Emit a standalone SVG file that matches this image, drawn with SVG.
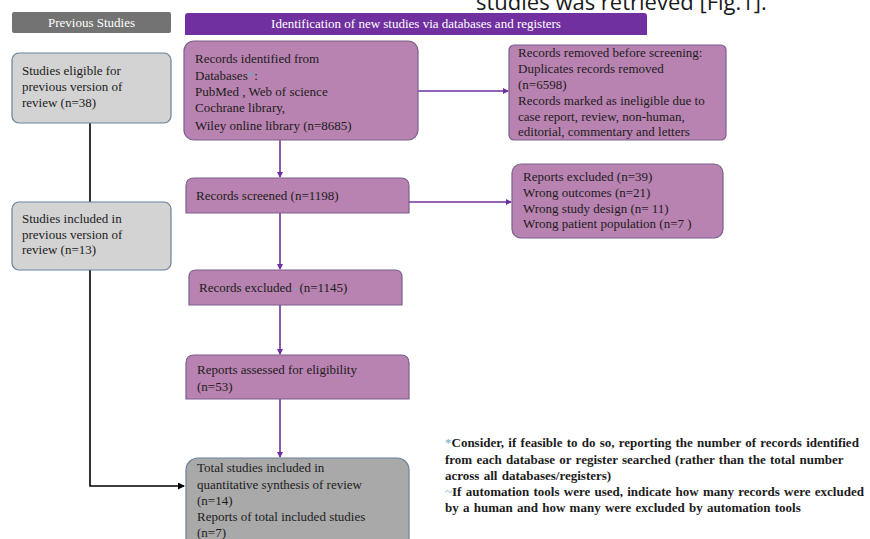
<svg xmlns="http://www.w3.org/2000/svg" width="870" height="539" viewBox="0 0 870 539">
<style>
.t{font-family:"Liberation Serif","Times New Roman",serif;font-size:13px;fill:#1c1c1c;}
.h{font-family:"Liberation Serif","Times New Roman",serif;font-size:13px;fill:#ffffff;}
.f{font-family:"Liberation Serif","Times New Roman",serif;font-size:13px;font-weight:bold;fill:#1c1c1c;word-spacing:1px;}
.blue{fill:#6fa8d2;}
.mauve{fill:#b883b0;stroke:#7b5f8c;stroke-width:1.2;}
.lgray{fill:#d3d3d3;stroke:#6a8199;stroke-width:1.2;}
.dgray{fill:#a9a9a9;stroke:#6a8199;stroke-width:1.2;}
.pl{stroke:#7030a0;stroke-width:1.6;fill:none;}
.bl{stroke:#000;stroke-width:1.6;fill:none;}
</style>
<defs>
<marker id="ap" markerWidth="6" markerHeight="6" refX="5" refY="3" orient="auto" markerUnits="userSpaceOnUse"><path d="M0,0 L6,3 L0,6 z" fill="#7030a0"/></marker>
<marker id="ab" markerWidth="7" markerHeight="7" refX="6" refY="3.5" orient="auto" markerUnits="userSpaceOnUse"><path d="M0,0 L7,3.5 L0,7 z" fill="#000"/></marker>
</defs>
<rect width="870" height="539" fill="#ffffff"/>
<text x="476" y="10" style="font-family:'Open Sans','Noto Sans',sans-serif;font-size:22px;fill:#1a1a1a;">studies was retrieved [Fig.1].</text>

<g id="hdr-prev">
<rect x="12" y="12" width="159" height="21" rx="2" fill="#737373"/>
<text x="91.5" y="27" class="h" text-anchor="middle">Previous  Studies</text>
</g>
<g id="hdr-new">
<path d="M185,35 V16 Q185,13 188,13 H644 Q647,13 647,16 V35 Z" fill="#7030a0"/>
<text x="416" y="28" class="h" text-anchor="middle">Identification  of new studies via databases and registers</text>
</g>

<g id="connectors">
<line x1="90" y1="123" x2="90" y2="202" class="bl"/>
<path d="M90,270 V486 H184" class="bl" marker-end="url(#ab)"/>
<line x1="280" y1="140" x2="280" y2="177" class="pl" marker-end="url(#ap)"/>
<line x1="418" y1="91" x2="508" y2="91" class="pl" marker-end="url(#ap)"/>
<line x1="409" y1="202" x2="511" y2="202" class="pl" marker-end="url(#ap)"/>
<line x1="280" y1="213" x2="280" y2="269" class="pl" marker-end="url(#ap)"/>
<line x1="280" y1="305" x2="280" y2="354" class="pl" marker-end="url(#ap)"/>
<line x1="280" y1="399" x2="280" y2="457" class="pl" marker-end="url(#ap)"/>
</g>

<g id="prev-eligible">
<rect x="12" y="53" width="159" height="70" rx="7" class="lgray"/>
<text class="t" x="22" y="75">Studies  eligible  for</text>
<text class="t" x="22" y="91">previous  version  of</text>
<text class="t" x="22" y="107">review  (n=38)</text>
</g>
<g id="prev-included">
<rect x="12" y="202" width="159" height="68" rx="7" class="lgray"/>
<text class="t" x="22" y="223">Studies  included  in</text>
<text class="t" x="22" y="239">previous  version  of</text>
<text class="t" x="22" y="254">review  (n=13)</text>
</g>

<g id="identified">
<rect x="184" y="41" width="234" height="99" rx="10" class="mauve"/>
<text class="t" x="195" y="63">Records identified  from</text>
<text class="t" x="195" y="80">Databases<tspan class="blue">*</tspan>:</text>
<text class="t" x="195" y="96">PubMed , Web of science</text>
<text class="t" x="195" y="112">Cochrane library,</text>
<text class="t" x="195" y="130">Wiley  online  library  (n=8685)</text>
</g>
<g id="removed">
<rect x="509" y="45" width="217" height="95" rx="5" class="mauve"/>
<text class="t" x="518" y="57">Records removed  before  screening:</text>
<text class="t" x="518" y="73">Duplicates  records removed</text>
<text class="t" x="518" y="89">(n=6598)</text>
<text class="t" x="518" y="105">Records marked  as ineligible  due to</text>
<text class="t" x="518" y="121">case report, review,  non-human,</text>
<text class="t" x="518" y="136">editorial,  commentary  and letters</text>
</g>
<g id="screened">
<path d="M186,213 V186 Q186,178 194,178 H401 Q409,178 409,186 V213 Z" class="mauve"/>
<text class="t" x="196" y="200">Records screened  (n=1198)</text>
</g>
<g id="reports-excluded">
<rect x="512" y="164" width="211" height="74" rx="9" class="mauve"/>
<text class="t" x="523" y="181">Reports excluded  (n=39)</text>
<text class="t" x="523" y="197">Wrong  outcomes  (n=21)</text>
<text class="t" x="523" y="213">Wrong  study  design  (n= 11)</text>
<text class="t" x="523" y="228">Wrong  patient  population  (n=7 )</text>
</g>
<g id="records-excluded">
<path d="M189,305 V277 Q189,270 196,270 H395 Q402,270 402,277 V305 Z" class="mauve"/>
<text class="t" x="199" y="292">Records excluded  <tspan class="blue">-</tspan>(n=1145)</text>
</g>
<g id="assessed">
<path d="M186,399 V363 Q186,355 194,355 H401 Q409,355 409,363 V399 Z" class="mauve"/>
<text class="t" x="197" y="374">Reports  assessed for  eligibility</text>
<text class="t" x="197" y="391">(n=53)</text>
</g>
<g id="total">
<rect x="186" y="458" width="223" height="100" rx="12" class="dgray"/>
<text class="t" x="197" y="472">Total  studies  included  in</text>
<text class="t" x="197" y="489">quantitative  synthesis  of  review</text>
<text class="t" x="197" y="505">(n=14)</text>
<text class="t" x="197" y="521">Reports  of total  included  studies</text>
<text class="t" x="197" y="537">(n=7)</text>
</g>

<g id="footnote">
<text class="f" x="445" y="447"><tspan class="blue" font-weight="normal">*</tspan>Consider,  if feasible to do so, reporting  the number  of records identified</text>
<text class="f" x="445" y="464">from  each database or register searched (rather  than  the total number</text>
<text class="f" x="445" y="480">across all  databases/registers)</text>
<text class="f" x="445" y="496"><tspan class="blue" font-weight="normal">~</tspan>If automation  tools were used, indicate  how many  records were excluded</text>
<text class="f" x="445" y="512">by a human  and how many were excluded by automation  tools</text>
</g>
</svg>
